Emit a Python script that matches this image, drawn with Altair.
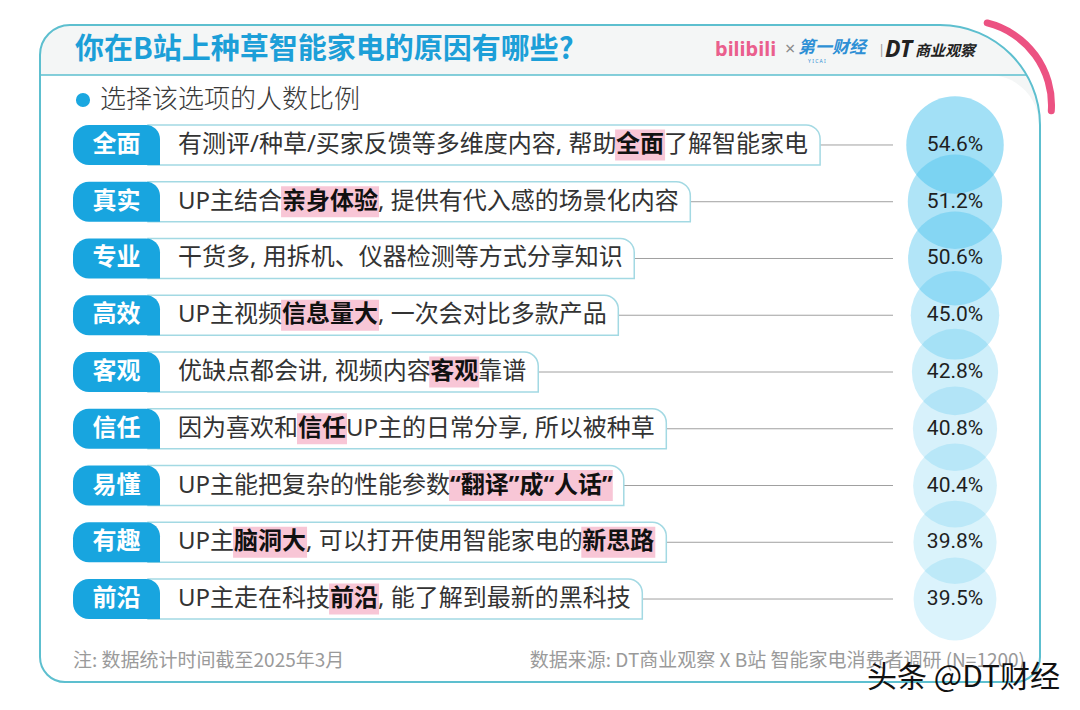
import re
import unicodedata
import altair as alt
import pandas as pd

# ---------------- data ----------------
tags = ["全面", "真实", "专业", "高效", "客观", "信任", "易懂", "有趣", "前沿"]
descs = [
    "有测评/种草/买家反馈等多维度内容, 帮助[全面]了解智能家电",
    "UP主结合[亲身体验], 提供有代入感的场景化内容",
    "干货多, 用拆机、仪器检测等方式分享知识",
    "UP主视频[信息量大], 一次会对比多款产品",
    "优缺点都会讲, 视频内容[客观]靠谱",
    "因为喜欢和[信任]UP主的日常分享, 所以被种草",
    "UP主能把复杂的性能参数[“翻译”成“人话”]",
    "UP主[脑洞大], 可以打开使用智能家电的[新思路]",
    "UP主走在科技[前沿], 能了解到最新的黑科技",
]
values = [54.6, 51.2, 50.6, 45.0, 42.8, 40.8, 40.4, 39.8, 39.5]

title = "你在B站上种草智能家电的原因有哪些?"
subtitle = "选择该选项的人数比例"
note_left = "注: 数据统计时间截至2025年3月"
note_right = "数据来源: DT商业观察 X B站 智能家电消费者调研 (N=1200)"
watermark = "头条 @DT财经"

# ---------------- layout helpers ----------------
W, H = 1064, 694
FS = 24
TEXT_X0 = 170
PAD = 12
LINE_END = 885
CIRCLE_X = 947
CJK = "Noto Sans CJK SC"
BODY_FONT = "Noto Sans, Noto Sans CJK SC"

LATIN_W = {"U": 0.733, "P": 0.603, ",": 0.25, " ": 0.26, "/": 0.372,
           "\u201c": 0.41, "\u201d": 0.41}


def char_w(c, bold):
    if unicodedata.east_asian_width(c) in ("W", "F"):
        return 1.0
    w = LATIN_W.get(c, 0.6)
    return w * (1.06 if bold else 1.0)


def text_width(s, bold):
    return sum(char_w(c, bold) for c in s) * FS


seg_rows = []
row_rows = []
for tag, desc, val in zip(tags, descs, values):
    cur = TEXT_X0
    for part in re.split(r"(\[[^\]]+\])", desc):
        if not part:
            continue
        bold = part.startswith("[")
        txt = part.strip("[]")
        w = text_width(txt, bold)
        seg_rows.append({"tag": tag, "text": txt, "x0": cur, "x1": cur + w,
                         "bold": bold})
        cur += w
    row_rows.append({"tag": tag, "value": val, "pill_start": 140,
                     "pill_end": cur + PAD, "tab_start": 65, "tab_end": 152,
                     "line_end": LINE_END})

segs = pd.DataFrame(seg_rows)
rows = pd.DataFrame(row_rows)
one = pd.DataFrame({"k": [0]})

xs = alt.Scale(domain=[0, W], nice=False, zero=False)
ys = alt.Scale(domain=tags, range=[108.6, 619.4], paddingInner=0, paddingOuter=0)
Y = alt.Y("tag:N", scale=ys, axis=None)

FRAME = "#5dbfcf"

# ---------------- decoration ----------------
frame_fill = alt.Chart(one).mark_rect(
    fill="#f4f6f6", cornerRadiusTopLeft=30, cornerRadiusTopRight=100,
    cornerRadiusBottomLeft=25, cornerRadiusBottomRight=25
).encode(x=alt.value(32), x2=alt.value(1032), y=alt.value(17), y2=alt.value(674))

body_fill = alt.Chart(one).mark_rect(
    fill="white", cornerRadiusTopRight=50,
    cornerRadiusBottomLeft=24, cornerRadiusBottomRight=24
).encode(x=alt.value(33), x2=alt.value(1031), y=alt.value(67), y2=alt.value(673))

frame_stroke = alt.Chart(one).mark_rect(
    fillOpacity=0, stroke=FRAME, strokeWidth=2,
    cornerRadiusTopLeft=30, cornerRadiusTopRight=100,
    cornerRadiusBottomLeft=25, cornerRadiusBottomRight=25
).encode(x=alt.value(32), x2=alt.value(1032), y=alt.value(17), y2=alt.value(674))

header_rule = alt.Chart(one).mark_rule(color=FRAME, strokeWidth=1.5).encode(
    x=alt.value(32), x2=alt.value(1019), y=alt.value(67))

pink_arc = alt.Chart(one).mark_arc(color="#ec5282", cornerRadius=4).encode(
    x=alt.value(959), y=alt.value(97),
    theta=alt.value(0.2), theta2=alt.value(1.68),
    radius=alt.value(81), radius2=alt.value(88))

title_txt = alt.Chart(one).mark_text(
    align="left", baseline="middle", font=CJK, fontSize=29, fontWeight="bold",
    color="#1c9fd8").encode(x=alt.value(67), y=alt.value(42), text=alt.value(title))

dot = alt.Chart(one).mark_circle(color="#1aa7e0", opacity=1, size=200).encode(
    x=alt.value(75), y=alt.value(92))

sub_txt = alt.Chart(one).mark_text(
    align="left", baseline="middle", font=CJK, fontSize=26, fontWeight=300,
    color="#3a3a3a").encode(x=alt.value(92), y=alt.value(92), text=alt.value(subtitle))

logo_bili = alt.Chart(one).mark_text(
    align="left", baseline="middle", font="Noto Sans", fontSize=20,
    fontWeight="bold", color="#ea5f8d").encode(
    x=alt.value(707), y=alt.value(42), text=alt.value("bilibili"))
logo_x = alt.Chart(one).mark_text(
    align="left", baseline="middle", font="Noto Sans", fontSize=18,
    color="#8a8a8a").encode(x=alt.value(777), y=alt.value(42), text=alt.value("×"))
logo_yc = alt.Chart(one).mark_text(
    align="left", baseline="middle", font=CJK, fontSize=17, fontWeight="bold",
    fontStyle="italic", color="#2d8fd5").encode(
    x=alt.value(790), y=alt.value(40), text=alt.value("第一财经"))
logo_yc2 = alt.Chart(one).mark_text(
    align="left", baseline="middle", font="Noto Sans", fontSize=5,
    color="#2d8fd5").encode(
    x=alt.value(800), y=alt.value(53), text=alt.value("Y    I    C    A    I"))
logo_bar = alt.Chart(one).mark_text(
    align="left", baseline="middle", font="Noto Sans", fontSize=13,
    color="#9a9a9a").encode(x=alt.value(870), y=alt.value(42), text=alt.value("|"))
logo_dt = alt.Chart(one).mark_text(
    align="left", baseline="middle", font="Noto Sans", fontSize=23,
    fontWeight="bold", fontStyle="italic", color="#222222").encode(
    x=alt.value(877), y=alt.value(42), text=alt.value("DT"))
logo_dt2 = alt.Chart(one).mark_text(
    align="left", baseline="middle", font=CJK, fontSize=15, fontWeight="bold",
    fontStyle="italic", color="#222222").encode(
    x=alt.value(907), y=alt.value(43), text=alt.value("商业观察"))

foot_l = alt.Chart(one).mark_text(
    align="left", baseline="middle", font=CJK, fontSize=19, color="#9a9a9a"
).encode(x=alt.value(65), y=alt.value(653), text=alt.value(note_left))
foot_r = alt.Chart(one).mark_text(
    align="right", baseline="middle", font=CJK, fontSize=19, color="#9a9a9a"
).encode(x=alt.value(1017), y=alt.value(653), text=alt.value(note_right))

wm = alt.Chart(one).mark_text(
    align="right", baseline="middle", font=CJK, fontSize=30, color="#111111"
).encode(x=alt.value(1052), y=alt.value(670), text=alt.value(watermark))

# ---------------- data marks ----------------
connectors = alt.Chart(rows).mark_rule(color="#a0a0a0", strokeWidth=1).encode(
    x=alt.X("pill_end:Q", scale=xs, axis=None), x2="line_end:Q", y=Y)

circles = alt.Chart(rows).mark_circle(color="#4dc3ee").encode(
    x=alt.value(CIRCLE_X), y=Y,
    size=alt.Size("value:Q", scale=alt.Scale(domain=[0, 100], range=[0, 17405]),
                  legend=None),
    opacity=alt.Opacity("value:Q", scale=alt.Scale(domain=[39.5, 54.6],
                                                   range=[0.2, 0.52]),
                        legend=None))

pct = alt.Chart(rows).transform_calculate(
    label="format(datum.value, '.1f') + '%'"
).mark_text(font="Roboto", fontSize=21, color="#1f1f1f", baseline="middle").encode(
    x=alt.value(CIRCLE_X), y=Y, text="label:N")

pills = alt.Chart(rows).mark_bar(
    size=40, fill="white", stroke="#a3d9e3", strokeWidth=1.5,
    cornerRadiusTopRight=14).encode(
    x=alt.X("pill_start:Q", scale=xs, axis=None), x2="pill_end:Q", y=Y)

tabs = alt.Chart(rows).mark_bar(
    size=40, color="#18a5df", cornerRadiusTopLeft=16, cornerRadiusBottomLeft=16,
    cornerRadiusTopRight=14).encode(
    x=alt.X("tab_start:Q", scale=xs, axis=None), x2="tab_end:Q", y=Y)

tab_txt = alt.Chart(rows).mark_text(
    font=CJK, fontSize=24, fontWeight="bold", color="white", baseline="middle"
).encode(x=alt.value(108.5), y=Y, text="tag:N")

highlights = alt.Chart(segs).transform_filter("datum.bold").transform_calculate(
    hx0="datum.x0 - 1", hx1="datum.x1 + 1"
).mark_bar(size=31, color="#f8c6d6").encode(
    x=alt.X("hx0:Q", scale=xs, axis=None), x2="hx1:Q", y=Y)

seg_norm = alt.Chart(segs).transform_filter("!datum.bold").mark_text(
    align="left", baseline="middle", font=BODY_FONT, fontSize=FS, color="#333333"
).encode(x=alt.X("x0:Q", scale=xs, axis=None), y=Y, text="text:N")

seg_bold = alt.Chart(segs).transform_filter("datum.bold").mark_text(
    align="left", baseline="middle", font=BODY_FONT, fontSize=FS,
    fontWeight="bold", color="#111111"
).encode(x=alt.X("x0:Q", scale=xs, axis=None), y=Y, text="text:N")

chart = alt.layer(
    frame_fill, body_fill, frame_stroke, header_rule, pink_arc,
    title_txt, dot, sub_txt,
    logo_bili, logo_x, logo_yc, logo_yc2, logo_bar, logo_dt, logo_dt2,
    connectors, circles, pct,
    pills, tabs, tab_txt, highlights, seg_norm, seg_bold,
    foot_l, foot_r, wm,
).properties(
    width=W, height=H, padding=0, autosize=alt.AutoSizeParams(type="none"),
    background="white"
).configure_view(stroke=None)

chart.save("out.html", embed_options={"renderer": "svg", "actions": False})
